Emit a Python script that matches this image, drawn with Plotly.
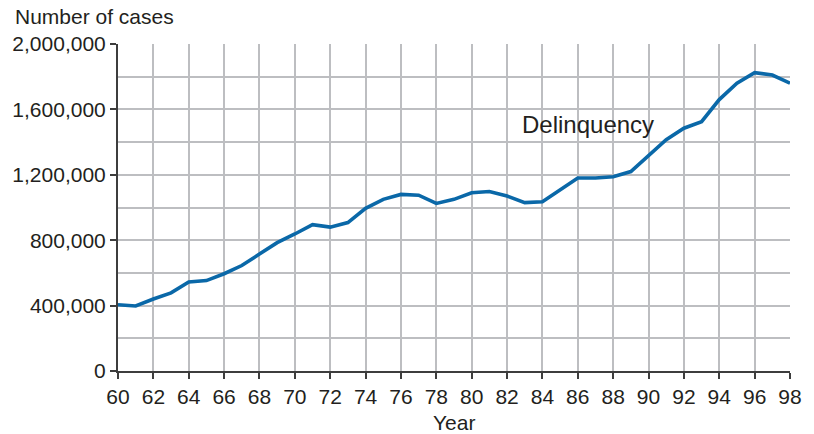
import plotly.graph_objects as go

years = list(range(60, 99))
cases = [405000, 398000, 440000, 478000, 545000, 553000, 595000, 645000, 715000, 785000,
         838000, 895000, 880000, 908000, 995000, 1050000, 1080000, 1075000, 1025000, 1050000,
         1090000, 1098000, 1070000, 1030000, 1035000, 1105000, 1180000, 1180000, 1188000, 1220000,
         1320000, 1415000, 1485000, 1525000, 1660000, 1760000, 1825000, 1810000, 1760000]
series_label = "Delinquency"
y_title = "Number of cases"
x_title = "Year"
x_ticks = list(range(60, 99, 2))
y_ticks = [0, 400000, 800000, 1200000, 1600000, 2000000]
y_ticklabels = ["0", "400,000", "800,000", "1,200,000", "1,600,000", "2,000,000"]

FONT = "Liberation Sans, Arial, sans-serif"
TXT = "#231f20"
GRID = "#bdbec1"
AX = "#3d3d3d"

fig = go.Figure()
fig.add_trace(go.Scatter(x=years, y=cases, mode="lines",
                         line=dict(color="#0a68a8", width=3.6), showlegend=False))

fig.update_layout(
    width=814, height=434,
    margin=dict(l=118, r=24, t=44, b=63),
    paper_bgcolor="white", plot_bgcolor="white",
    font=dict(family=FONT, size=21, color=TXT),
    xaxis=dict(range=[60, 98], tickvals=x_ticks, ticktext=[str(v) for v in x_ticks],
               showgrid=True, gridcolor=GRID, gridwidth=2, automargin=False,
               showline=True, linecolor=AX, linewidth=2,
               ticks="outside", ticklen=6, tickwidth=2, tickcolor=AX,
               zeroline=False, tickfont=dict(size=21, color=TXT)),
    yaxis=dict(range=[0, 2000000], tickvals=y_ticks, ticktext=y_ticklabels,
               showgrid=True, gridcolor=GRID, gridwidth=2, automargin=False,
               minor=dict(dtick=200000, showgrid=True, gridcolor=GRID, gridwidth=2, ticks=""),
               showline=True, linecolor=AX, linewidth=2,
               ticks="outside", ticklen=6, tickwidth=2, tickcolor=AX,
               zeroline=False, tickfont=dict(size=21, color=TXT)),
    annotations=[
        dict(text=series_label, x=86.6, y=1505000, xref="x", yref="y",
             showarrow=False, font=dict(size=24, color=TXT), xanchor="center", yanchor="middle"),
        dict(text=y_title, x=-105/672, y=1.083, xref="paper", yref="paper",
             showarrow=False, xanchor="left", yanchor="middle", font=dict(size=21, color=TXT)),
        dict(text=x_title, x=0.5, y=-0.157, xref="paper", yref="paper",
             showarrow=False, xanchor="center", yanchor="middle", font=dict(size=21, color=TXT)),
    ],
)

fig.write_html("out.html", config={"displayModeBar": False},
               post_script="document.body.style.margin='0';")
